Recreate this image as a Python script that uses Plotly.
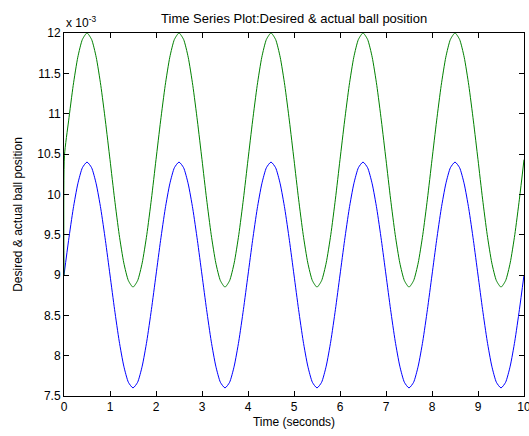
import plotly.graph_objects as go

time_s = [round(0.1 * i, 1) for i in range(101)]

# blue series (x 10^-3)
blue_pos = [
    9.00, 9.43, 9.82, 10.13, 10.33, 10.40, 10.33, 10.13, 9.82, 9.43,
    9.00, 8.57, 8.18, 7.87, 7.67, 7.60, 7.67, 7.87, 8.18, 8.57,
    9.00, 9.43, 9.82, 10.13, 10.33, 10.40, 10.33, 10.13, 9.82, 9.43,
    9.00, 8.57, 8.18, 7.87, 7.67, 7.60, 7.67, 7.87, 8.18, 8.57,
    9.00, 9.43, 9.82, 10.13, 10.33, 10.40, 10.33, 10.13, 9.82, 9.43,
    9.00, 8.57, 8.18, 7.87, 7.67, 7.60, 7.67, 7.87, 8.18, 8.57,
    9.00, 9.43, 9.82, 10.13, 10.33, 10.40, 10.33, 10.13, 9.82, 9.43,
    9.00, 8.57, 8.18, 7.87, 7.67, 7.60, 7.67, 7.87, 8.18, 8.57,
    9.00, 9.43, 9.82, 10.13, 10.33, 10.40, 10.33, 10.13, 9.82, 9.43,
    9.00, 8.57, 8.18, 7.87, 7.67, 7.60, 7.67, 7.87, 8.18, 8.57,
    9.00,
]

# green series (x 10^-3); starts at 9.0 and jumps at t=0
green_time_s = [0.0, 0.01] + time_s[1:]
green_pos = [
    9.00, 10.48, 10.91, 11.35, 11.70, 11.92, 12.00, 11.92, 11.70, 11.35, 10.91,
    10.43, 9.94, 9.50, 9.15, 8.93, 8.85, 8.93, 9.15, 9.50, 9.94,
    10.43, 10.91, 11.35, 11.70, 11.92, 12.00, 11.92, 11.70, 11.35, 10.91,
    10.43, 9.94, 9.50, 9.15, 8.93, 8.85, 8.93, 9.15, 9.50, 9.94,
    10.43, 10.91, 11.35, 11.70, 11.92, 12.00, 11.92, 11.70, 11.35, 10.91,
    10.43, 9.94, 9.50, 9.15, 8.93, 8.85, 8.93, 9.15, 9.50, 9.94,
    10.43, 10.91, 11.35, 11.70, 11.92, 12.00, 11.92, 11.70, 11.35, 10.91,
    10.43, 9.94, 9.50, 9.15, 8.93, 8.85, 8.93, 9.15, 9.50, 9.94,
    10.43, 10.91, 11.35, 11.70, 11.92, 12.00, 11.92, 11.70, 11.35, 10.91,
    10.43, 9.94, 9.50, 9.15, 8.93, 8.85, 8.93, 9.15, 9.50, 9.94,
    10.43,
]

x_ticks = [0, 1, 2, 3, 4, 5, 6, 7, 8, 9, 10]
y_ticks = [7.5, 8, 8.5, 9, 9.5, 10, 10.5, 11, 11.5, 12]
y_tick_labels = ["7.5", "8", "8.5", "9", "9.5", "10", "10.5", "11", "11.5", "12"]

font_family = "Liberation Sans, Arial, sans-serif"

fig = go.Figure()
fig.add_trace(go.Scatter(x=time_s, y=blue_pos, mode="lines",
                         line=dict(color="#0000FF", width=1, shape="spline", smoothing=0.6),
                         showlegend=False))
fig.add_trace(go.Scatter(x=green_time_s, y=green_pos, mode="lines",
                         line=dict(color="#008000", width=1, shape="spline", smoothing=0.6),
                         showlegend=False))

axis_common = dict(showgrid=False, zeroline=False, showline=True, linecolor="black",
                   linewidth=1, mirror="ticks", ticks="inside", ticklen=5,
                   tickcolor="black", ticklabeloverflow="allow", automargin=False,
                   tickfont=dict(size=12, color="black", family=font_family))

fig.update_xaxes(range=[0, 10], tickvals=x_ticks, **axis_common,
                 title=dict(text="Time (seconds)", font=dict(size=12, color="black", family=font_family),
                            standoff=4))
fig.update_yaxes(range=[7.5, 12], tickvals=y_ticks, ticktext=y_tick_labels, **axis_common,
                 title=dict(text="Desired & actual ball position",
                            font=dict(size=12, color="black", family=font_family), standoff=12))

fig.update_layout(
    width=529, height=436,
    margin=dict(l=64, r=5, t=33, b=40),
    paper_bgcolor="white", plot_bgcolor="white",
    title=dict(text="Time Series Plot:Desired & actual ball position", x=0.556, xanchor="center",
               y=1 - 18 / 436, yanchor="middle",
               font=dict(size=13, color="black", family=font_family)),
    annotations=[dict(text="x 10<sup>-3</sup>", xref="paper", yref="paper", x=0, y=1,
                      xanchor="left", yanchor="bottom", showarrow=False, yshift=1,
                      font=dict(size=12, color="black", family=font_family))],
)

fig.write_html("out.html", config={"displayModeBar": False},
               post_script="document.body.style.margin='0';")
